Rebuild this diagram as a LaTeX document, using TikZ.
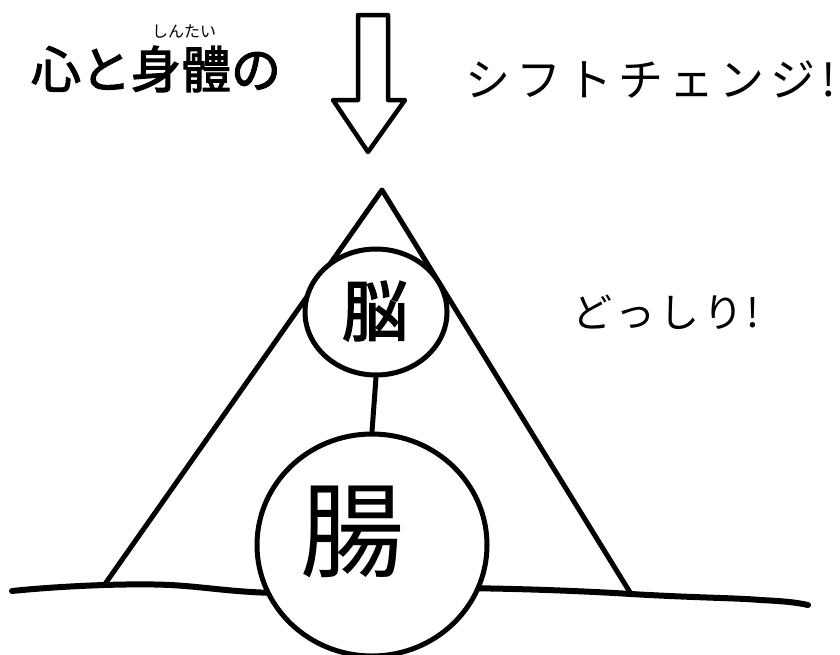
\documentclass[tikz,border=0pt]{standalone}
\usepackage{fontspec}
\usetikzlibrary{shapes.geometric}
\newfontfamily\jp{Noto Sans CJK JP}
\newfontfamily\jpb{Noto Sans CJK JP}[FakeBold=2.5]
\newfontfamily\jpwide{Noto Sans CJK JP}[LetterSpace=13]
\newfontfamily\jpwideb{Noto Sans CJK JP}[LetterSpace=9]
\begin{document}
\begin{tikzpicture}[x=1pt,y=-1pt,
  ink/.style={line width=5pt,line join=round,line cap=round,black},
  organ/.style={ellipse,draw,line width=5pt,fill=white,inner sep=0pt},
  txt/.style={inner sep=0pt,anchor=center}]
\useasboundingbox (0,0) rectangle (840,654);
% triangle
\coordinate (apex) at (382,190);
\coordinate (bl) at (105,584);
\coordinate (br) at (631,594);
\draw[ink] (bl) -- (apex) -- (br);
% ground
\coordinate (g0) at (12,591);
\coordinate (g1) at (808,605);
\draw[line width=6pt,line cap=round] (g0) .. controls (60,586) and (130,583) .. (170,585)
  .. controls (210,587) and (240,594) .. (300,593) -- (440,588)
  .. controls (520,588) and (600,592) .. (631,594)
  .. controls (700,598) and (740,598) .. (760,600) .. controls (780,601) and (795,602) .. (g1);
% organs
\node[organ,minimum width=142pt,minimum height=126pt] (brain) at (376,312) {};
\node[organ,minimum width=230pt,minimum height=222pt] (gut) at (372,545) {};
\draw[ink] (brain.south) -- (gut.north);
\node[txt,font=\jpb\fontsize{66}{66}\selectfont] (nou) at (375,311) {脳};
\node[txt,font=\jp\fontsize{104}{104}\selectfont] (chou) at (352,532) {腸};
% arrow
\draw[line width=4.5pt,line join=round] (358,15) -- (388,15) -- (388,100) -- (405,100) -- (368,152) -- (333,100) -- (358,100) -- cycle;
% texts
\node[txt,font=\jpb\fontsize{50}{50}\selectfont] (title) at (156,69) {心と身體の};
\node[txt,font=\jp\fontsize{16}{16}\selectfont] (ruby) at (184,32) {しんたい};
\node[txt,font=\jpwide\fontsize{45}{45}\selectfont] (shift) at (651,80) {シフトチェンジ!};
\node[txt,font=\jpwideb\fontsize{40}{40}\selectfont] (dosshiri) at (666,312) {どっしり!};
\end{tikzpicture}
\end{document}
